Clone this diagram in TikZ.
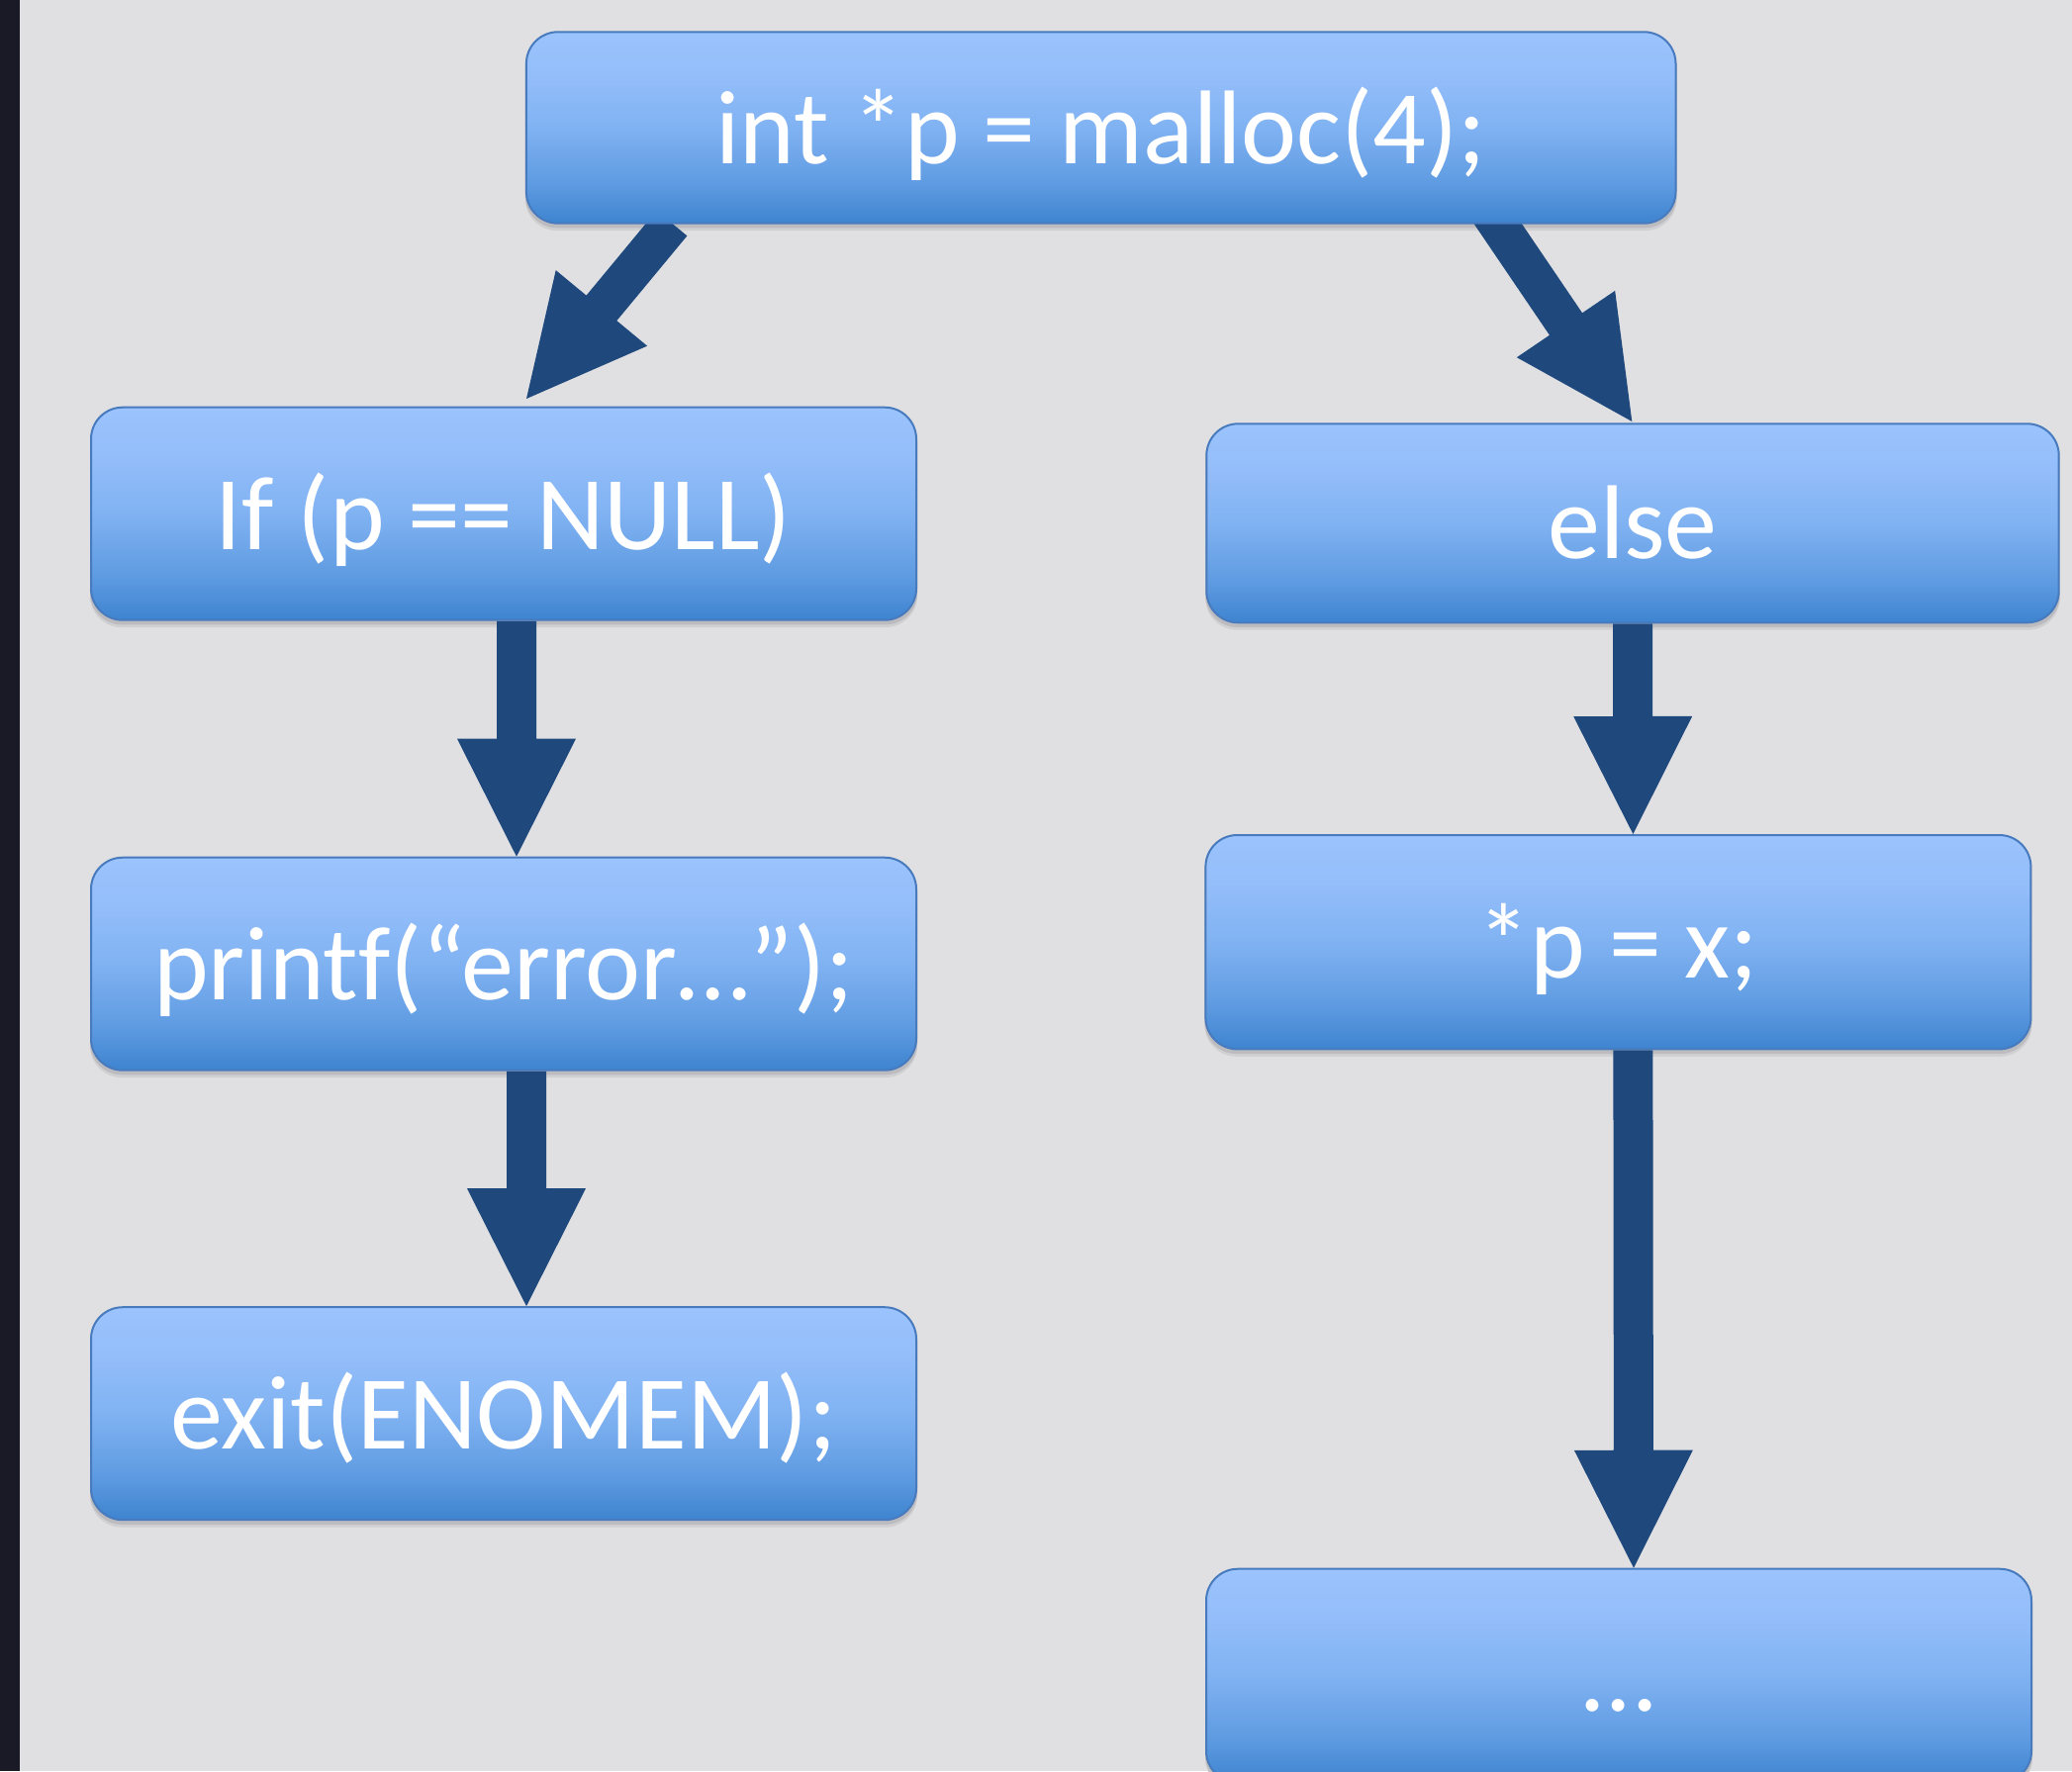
\documentclass[tikz,border=0pt]{standalone}
\usepackage{fontspec}
\newfontfamily\boxfont{Carlito}
\usetikzlibrary{calc}

\definecolor{pagebg}{RGB}{224,224,226}
\definecolor{sidebar}{RGB}{26,26,38}
\definecolor{arrowblue}{RGB}{31,73,125}
\definecolor{boxedge}{RGB}{72,122,190}
\definecolor{gradtop}{RGB}{155,195,253}
\definecolor{gradhigh}{RGB}{148,190,250}
\definecolor{gradmid}{RGB}{128,178,242}
\definecolor{gradlow}{RGB}{96,156,226}
\definecolor{gradbot}{RGB}{62,132,208}
\definecolor{shadowfar}{RGB}{208,208,210}
\definecolor{shadownear}{RGB}{188,188,192}

\pgfdeclareverticalshading{boxgrad}{100bp}{%
  color(0bp)=(gradbot); color(25bp)=(gradbot); color(36bp)=(gradlow);
  color(50bp)=(gradmid); color(64bp)=(gradhigh); color(75bp)=(gradtop);
  color(100bp)=(gradtop)}

\pgfdeclarelayer{bg}
\pgfdeclarelayer{shadow}
\pgfdeclarelayer{arrows}
\pgfsetlayers{bg,shadow,arrows,main}

% fat block arrow from #1 (start of the shaft) to #2 (tip)
\newcommand{\blockarrow}[2]{%
  \path ($(#2)!59.5pt!(#1)$) coordinate (hb);
  \fill[arrowshape]
    ($(#1)!10pt!90:(#2)$) -- ($(hb)!10pt!90:(#2)$) -- ($(hb)!30pt!90:(#2)$)
    -- (#2)
    -- ($(hb)!30pt!-90:(#2)$) -- ($(hb)!10pt!-90:(#2)$) -- ($(#1)!10pt!-90:(#2)$)
    -- cycle;}

% soft drop shadow under a statement box
\newcommand{\boxshadow}[1]{%
  \fill[shadowfar, rounded corners=16pt]
    ([yshift=-3.2pt]#1.south west) rectangle ([yshift=-3.2pt]#1.north east);
  \fill[shadownear, rounded corners=16pt]
    ([yshift=-1.8pt]#1.south west) rectangle ([yshift=-1.8pt]#1.north east);}

\tikzset{
  codebox/.style={draw=boxedge, line width=1pt, rounded corners=16pt,
    shading=boxgrad, text=white,
    font=\boxfont\fontsize{53}{60}\selectfont,
    text height=36pt, text depth=0pt, inner sep=0pt,
    minimum width=417pt, minimum height=107.5pt},
  arrowshape/.style={fill=arrowblue}
}

\begin{document}
\begin{tikzpicture}[x=0.5pt, y=-0.5pt]
  \useasboundingbox (0,0) rectangle (2094,1790);
  \begin{pgfonlayer}{bg}
    \fill[pagebg] (0,0) rectangle (2094,1790);
    \fill[sidebar] (0,0) rectangle (20,1790);
  \end{pgfonlayer}

  % statements
  \begin{scope}[transparency group]
  \node[codebox, minimum width=580.8pt, minimum height=96.7pt]
    (alloc) at (1112.7,129) {int *p = malloc(4);};
  \node[codebox] (check) at (509,519.2) {If (p == NULL)};
  \node[codebox, minimum width=430.7pt, minimum height=100.5pt]
    (other) at (1650,528.8) {else};
  \node[codebox] (report) at (509,974.2) {print\kern0pt f(“error…”);};
  \node[codebox] (quit) at (509,1428.7) {exit(ENOMEM);};
  \node[codebox, minimum height=108.2pt] (store) at (1635.4,952.2) {*p = x;};
  \node[codebox, minimum height=108pt] (rest) at (1636,1693.7) {…};
  \end{scope}

  \begin{pgfonlayer}{shadow}
    \foreach \n in {alloc,check,other,report,quit,store,rest} {\boxshadow{\n}}
  \end{pgfonlayer}

  % arrow end points
  \coordinate (l0) at ($(alloc.south)+(-433.7,-1.1)$);
  \coordinate (l1) at ($(check.north)+(23,-7.7)$);
  \coordinate (r0) at ($(alloc.south)+(384,-25.7)$);
  \coordinate (r1) at ($(other.north)+(-0.7,-1.3)$);
  \coordinate (a0) at ($(check.south)+(13,0)$);
  \coordinate (a1) at ($(report.north)+(13,0)$);
  \coordinate (b0) at ($(report.south)+(23,0)$);
  \coordinate (b1) at ($(quit.north)+(23,0)$);
  \coordinate (c0) at (other.south);
  \coordinate (c1) at ($(store.north)+(15,0)$);
  \coordinate (d0) at ($(store.south)+(15,0)$);
  \coordinate (d1) at ($(rest.north)+(15,0)$);

  \begin{pgfonlayer}{arrows}
    \blockarrow{l0}{l1}
    \blockarrow{r0}{r1}
    \blockarrow{a0}{a1}
    \blockarrow{b0}{b1}
    \blockarrow{c0}{c1}
    \blockarrow{d0}{d1}
  \end{pgfonlayer}
\end{tikzpicture}
\end{document}
